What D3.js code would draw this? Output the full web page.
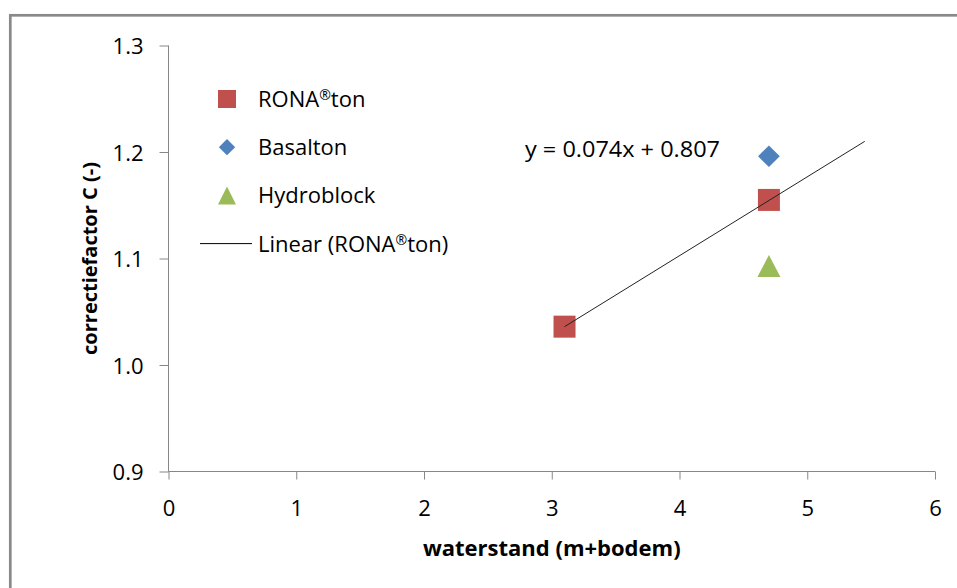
<!DOCTYPE html>
<html>
<head>
<meta charset="utf-8">
<script src="https://cdn.jsdelivr.net/npm/d3@7"></script>
<style>
  html, body { margin: 0; padding: 0; background: #fff; }
  svg { display: block; font-family: "Open Sans", "Liberation Sans", sans-serif; }
</style>
</head>
<body>
<svg id="chart" width="957" height="588"></svg>
<script>
// ---- data ----
const seriesNames = ["RONA®ton", "Basalton", "Hydroblock"];
const ronaX = [3.1, 4.7];
const ronaY = [1.036, 1.155];
const basaltonX = [4.7];
const basaltonY = [1.196];
const hydroX = [4.7];
const hydroY = [1.093];
const trendX = [3.1, 5.45];
const trendY = [1.036, 1.210];
const trendLabel = "Linear (RONA®ton)";
const equationText = "y = 0.074x + 0.807";
const xTicks = [0, 1, 2, 3, 4, 5, 6];
const yTicks = [0.9, 1.0, 1.1, 1.2, 1.3];
const xTitle = "waterstand (m+bodem)";
const yTitle = "correctiefactor C (-)";

const colors = { rona: "#C0504D", basalton: "#4F81BD", hydro: "#9BBB59" };

const svg = d3.select("#chart");

// chart border (extends beyond the view on right/bottom)
svg.append("rect")
  .attr("x", 10.3).attr("y", 15.3)
  .attr("width", 1000).attr("height", 700)
  .attr("fill", "none").attr("stroke", "#898989").attr("stroke-width", 2.7);

const x = d3.scaleLinear().domain([0, 6]).range([168.5, 935]);
const y = d3.scaleLinear().domain([0.9, 1.3]).range([471.5, 45.5]);

const axisColor = "#878787";

// y axis
const gy = svg.append("g").attr("transform", `translate(${x(0)},0)`)
  .call(d3.axisLeft(y).tickValues(yTicks).tickSize(9).tickPadding(0).tickFormat(d3.format(".1f")));
gy.select(".domain").attr("stroke", axisColor).attr("d", `M-0,${y(1.3)}V${y(0.9)}`);
gy.selectAll(".tick line").attr("stroke", axisColor);
gy.selectAll(".tick text")
  .attr("x", -25).attr("dy", null).attr("y", 8)
  .attr("font-size", 22).attr("fill", "#000")
  .attr("font-family", "Open Sans").attr("text-anchor", "end");

// x axis
const gx = svg.append("g").attr("transform", `translate(0,${y(0.9)})`)
  .call(d3.axisBottom(x).tickValues(xTicks).tickSize(8).tickFormat(d3.format("d")));
gx.select(".domain").attr("stroke", axisColor).attr("d", `M${x(0)},0H${x(6)}`);
gx.selectAll(".tick line").attr("stroke", axisColor);
gx.selectAll(".tick text")
  .attr("y", 44.5).attr("dy", null)
  .attr("font-size", 22).attr("fill", "#000")
  .attr("font-family", "Open Sans");

// axis titles
svg.append("text")
  .attr("x", (x(0) + x(6)) / 2).attr("y", 556)
  .attr("text-anchor", "middle")
  .attr("font-size", 22).attr("font-weight", "bold").attr("fill", "#000")
  .text(xTitle);

svg.append("text")
  .attr("transform", `translate(97,${(y(0.9) + y(1.3)) / 2}) rotate(-90)`)
  .attr("text-anchor", "middle")
  .attr("font-size", 20).attr("font-weight", "bold").attr("fill", "#000")
  .text(yTitle);

// markers
const sym = (type, size) => d3.symbol().type(type).size(size)();
const ronaData = ronaX.map((v, i) => [v, ronaY[i]]);
const basData = basaltonX.map((v, i) => [v, basaltonY[i]]);
const hydData = hydroX.map((v, i) => [v, hydroY[i]]);

svg.append("g").selectAll("rect").data(ronaData).join("rect")
  .attr("x", d => x(d[0]) - 11).attr("y", d => y(d[1]) - 11)
  .attr("width", 22).attr("height", 22)
  .attr("fill", colors.rona);

svg.append("g").selectAll("path").data(basData).join("path")
  .attr("transform", d => `translate(${x(d[0])},${y(d[1])})`)
  .attr("d", sym(d3.symbolDiamond2, 300))
  .attr("fill", colors.basalton);

svg.append("g").selectAll("path").data(hydData).join("path")
  .attr("d", d => {
    const cx = x(d[0]), cy = y(d[1]);
    return `M${cx},${cy - 11}L${cx + 11.5},${cy + 11}L${cx - 11.5},${cy + 11}Z`;
  })
  .attr("fill", colors.hydro);

// trendline on top of markers (as in reference)
svg.append("line")
  .attr("x1", x(trendX[0])).attr("y1", y(trendY[0]))
  .attr("x2", x(trendX[1])).attr("y2", y(trendY[1]))
  .attr("stroke", "#222").attr("stroke-width", 1);

// equation
svg.append("text")
  .attr("x", 525).attr("y", 157)
  .attr("font-size", 22).attr("fill", "#000")
  .attr("textLength", 195).attr("lengthAdjust", "spacingAndGlyphs")
  .text(equationText);

// helper: render ® as small raised glyph
function richText(sel, str) {
  const parts = str.split("®");
  parts.forEach((p, i) => {
    if (i > 0) {
      sel.append("tspan").attr("font-size", 14).attr("dy", -7).text("®");
      sel.append("tspan").attr("dy", 7).text(p);
    } else {
      sel.append("tspan").text(p);
    }
  });
}

// legend
const legendItems = [
  { name: seriesNames[0], kind: "square", color: colors.rona },
  { name: seriesNames[1], kind: "diamond", color: colors.basalton },
  { name: seriesNames[2], kind: "triangle", color: colors.hydro },
  { name: trendLabel, kind: "line", color: "#000" }
];
const lg = svg.append("g");
legendItems.forEach((it, i) => {
  const cy = 99 + i * 48.2, cx = 227;
  if (it.kind === "square") {
    lg.append("rect").attr("x", cx - 9).attr("y", cy - 9).attr("width", 18).attr("height", 18).attr("fill", it.color);
  } else if (it.kind === "diamond") {
    lg.append("path").attr("transform", `translate(${cx},${cy})`).attr("d", sym(d3.symbolDiamond2, 170)).attr("fill", it.color);
  } else if (it.kind === "triangle") {
    lg.append("path").attr("d", `M${cx},${cy - 9}L${cx + 9},${cy + 9}L${cx - 9},${cy + 9}Z`).attr("fill", it.color);
  } else {
    lg.append("line").attr("x1", 200).attr("x2", 252).attr("y1", cy).attr("y2", cy).attr("stroke", it.color).attr("stroke-width", 1);
  }
  const t = lg.append("text").attr("x", 258).attr("y", cy + 8)
    .attr("font-size", 22).attr("fill", "#000");
  richText(t, it.name);
});
</script>
</body>
</html>
